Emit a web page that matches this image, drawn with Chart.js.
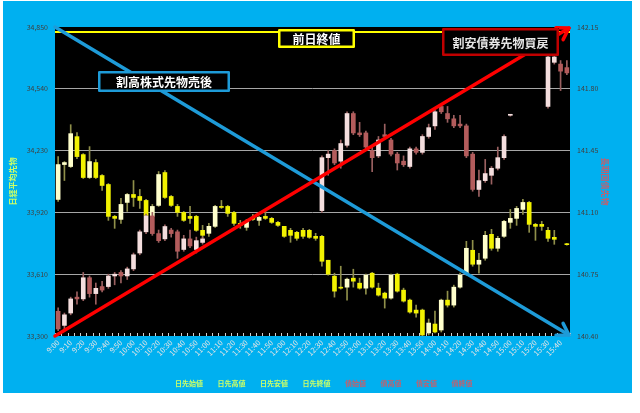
<!DOCTYPE html>
<html>
<head>
<meta charset="UTF-8">
<title>日経平均先物と債券先物</title>
<script src="https://cdn.jsdelivr.net/npm/chart.js"></script>
<style>
  html, body { margin: 0; padding: 0; background: #ffffff; }
  #wrap { position: absolute; left: 3px; top: 1px; width: 629px; height: 392px; background: #00B0F0; }
</style>
</head>
<body>
<div id="wrap"><canvas id="myChart" width="629" height="392"></canvas></div>
<script>
const times = [
  '9:00','9:05','9:10','9:15','9:20','9:25','9:30','9:35','9:40','9:45','9:50','9:55',
  '10:00','10:05','10:10','10:15','10:20','10:25','10:30','10:35','10:40','10:45','10:50','10:55',
  '11:00','11:05','11:10','11:15','11:20','11:25','11:30','11:35','11:40','11:45','11:50','11:55',
  '12:00','12:05','12:10','12:15','12:20','12:25','12:30','12:35','12:40','12:45','12:50','12:55',
  '13:00','13:05','13:10','13:15','13:20','13:25','13:30','13:35','13:40','13:45','13:50','13:55',
  '14:00','14:05','14:10','14:15','14:20','14:25','14:30','14:35','14:40','14:45','14:50','14:55',
  '15:00','15:05','15:10','15:15','15:20','15:25','15:30','15:35','15:40','15:45'
];

// 日経平均先物 (左軸)
const nkOpen = [
  33985, 34160, 34150, 34300, 34210, 34095, 34170, 34105, 34060, 33900,
  33885, 33970, 34010, 34000, 33980, 33900, 33955, 34120, 34000, 33950,
  33920, 33900, 33900, 33830, 33815, 33850, 33950, 33950, 33920, 33865,
  33845, 33895, 33880, 33900, 33890, 33870, 33850, 33830, 33820, 33830,
  33830, 33800, 33800, 33680, 33600, 33545, 33545, 33590, 33565, 33540,
  33615, 33540, 33515, 33490, 33610, 33530, 33480, 33430, 33430, 33315,
  33360, 33330, 33480, 33455, 33545, 33615, 33730, 33660, 33690, 33810,
  33740, 33800, 33870, 33890, 33935, 33970, 33860, 33860, 33830, 33795,
  null, 33762
];
const nkHigh = [
  34200, 34175, 34360, 34320, 34215, 34250, 34185, 34110, 34065, 33905,
  33990, 34015, 34080, 34035, 33985, 33960, 34125, 34130, 34005, 33960,
  33925, 33950, 33905, 33855, 33865, 33955, 33980, 33955, 33925, 33880,
  33885, 33910, 33900, 33930, 33895, 33875, 33850, 33840, 33825, 33840,
  33835, 33815, 33805, 33680, 33615, 33650, 33590, 33635, 33590, 33610,
  33620, 33565, 33520, 33610, 33615, 33540, 33485, 33455, 33435, 33385,
  33425, 33485, 33525, 33555, 33615, 33775, 33780, 33715, 33825, 33835,
  33800, 33880, 33935, 33950, 33985, 33975, 33865, 33875, 33845, 33830,
  null, 33765
];
const nkLow = [
  33975, 34080, 34145, 34190, 34090, 34090, 34090, 34030, 33880, 33840,
  33865, 33925, 33950, 33940, 33900, 33895, 33950, 33990, 33950, 33900,
  33875, 33865, 33825, 33790, 33800, 33845, 33940, 33900, 33855, 33840,
  33830, 33880, 33855, 33885, 33865, 33850, 33795, 33770, 33780, 33790,
  33790, 33780, 33650, 33605, 33495, 33535, 33480, 33545, 33535, 33510,
  33540, 33500, 33440, 33485, 33520, 33470, 33415, 33395, 33300, 33305,
  33315, 33320, 33445, 33445, 33540, 33605, 33650, 33615, 33680, 33730,
  33725, 33795, 33840, 33855, 33910, 33820, 33780, 33830, 33775, 33760,
  null, 33755
];
const nkClose = [
  34160, 34170, 34315, 34200, 34095, 34175, 34095, 34055, 33900, 33890,
  33960, 34010, 33995, 33980, 33905, 33950, 34110, 33995, 33955, 33920,
  33880, 33890, 33830, 33805, 33850, 33950, 33945, 33915, 33865, 33855,
  33875, 33885, 33895, 33890, 33870, 33855, 33800, 33805, 33790, 33800,
  33795, 33790, 33675, 33610, 33525, 33540, 33585, 33575, 33540, 33605,
  33545, 33505, 33490, 33605, 33525, 33475, 33420, 33415, 33305, 33365,
  33320, 33480, 33455, 33545, 33605, 33740, 33660, 33680, 33805, 33740,
  33790, 33875, 33890, 33940, 33970, 33860, 33850, 33850, 33790, 33785,
  null, 33758
];

// 債券先物 (右軸)
const bdOpen = [
  140.54, 140.46, 140.53, 140.62, 140.61, 140.73, 140.64, 140.68, 140.68, 140.74,
  140.76, 140.74, 140.78, 140.87, 140.99, 141.08, 140.98, 140.95, 141.00, 140.99,
  140.89, 140.95, 140.89, 140.93, null, null, null, null, null, null,
  null, null, null, null, null, null, null, null, null, null,
  null, null, 141.11, 141.41, 141.45, 141.39, 141.48, 141.66, 141.55, 141.55,
  141.45, 141.42, 141.54, 141.51, 141.43, 141.39, 141.36, 141.46, 141.44, 141.53,
  141.59, 141.70, 141.66, 141.63, 141.60, 141.59, 141.43, 141.23, 141.28, 141.31,
  141.35, 141.41, 141.65, null, null, null, null, null, 141.70, 141.95,
  141.94, 141.92
];
const bdHigh = [
  140.56, 140.53, 140.62, 140.65, 140.76, 140.74, 140.70, 140.71, 140.75, 140.76,
  140.77, 140.79, 140.87, 141.00, 141.09, 141.10, 141.00, 141.03, 141.01, 141.00,
  140.97, 141.00, 140.96, 140.96, null, null, null, null, null, null,
  null, null, null, null, null, null, null, null, null, null,
  null, null, 141.42, 141.45, 141.46, 141.51, 141.67, 141.67, 141.61, 141.56,
  141.47, 141.53, 141.60, 141.52, 141.44, 141.42, 141.47, 141.47, 141.54, 141.60,
  141.68, 141.71, 141.70, 141.65, 141.65, 141.60, 141.44, 141.34, 141.40, 141.36,
  141.47, 141.54, 141.65, null, null, null, null, null, 142.02, 142.00,
  141.96, 141.96
];
const bdLow = [
  140.43, 140.43, 140.52, 140.58, 140.60, 140.62, 140.58, 140.65, 140.67, 140.69,
  140.70, 140.72, 140.77, 140.86, 140.98, 140.97, 140.93, 140.94, 140.96, 140.84,
  140.88, 140.90, 140.87, 140.92, null, null, null, null, null, null,
  null, null, null, null, null, null, null, null, null, null,
  null, null, 141.10, 141.31, 141.37, 141.35, 141.47, 141.54, 141.53, 141.46,
  141.33, 141.41, 141.52, 141.42, 141.34, 141.36, 141.35, 141.43, 141.43, 141.52,
  141.57, 141.66, 141.61, 141.58, 141.58, 141.41, 141.22, 141.19, 141.27, 141.26,
  141.34, 141.40, 141.645, null, null, null, null, null, 141.69, 141.94,
  141.79, 141.88
];
const bdClose = [
  140.44, 140.52, 140.61, 140.61, 140.73, 140.64, 140.67, 140.66, 140.74, 140.75,
  140.74, 140.78, 140.86, 140.99, 141.08, 140.98, 140.94, 141.02, 140.98, 140.88,
  140.95, 140.91, 140.94, 140.95, null, null, null, null, null, null,
  null, null, null, null, null, null, null, null, null, null,
  null, null, 141.41, 141.43, 141.38, 141.49, 141.66, 141.55, 141.54, 141.47,
  141.41, 141.51, 141.53, 141.43, 141.38, 141.37, 141.46, 141.44, 141.53, 141.58,
  141.67, 141.67, 141.63, 141.59, 141.59, 141.42, 141.23, 141.28, 141.32, 141.35,
  141.41, 141.53, 141.65, null, null, null, null, null, 141.98, 141.98,
  141.90, 141.89
];

const leftTicks = [33300, 33610, 33920, 34230, 34540, 34850];
const rightTicks = [140.40, 140.75, 141.10, 141.45, 141.80, 142.15];
const prevClose = 34825;
const legendLabels = ['日先始値', '日先高値', '日先安値', '日先終値', '債始値', '債高値', '債安値', '債終値'];

const FONT = "'Noto Sans CJK JP', 'Noto Sans', sans-serif";

function pairs(a, b) {
  return a.map((v, i) => (v === null ? null : [v, b[i]]));
}
function bodyColors(open, close, up, down) {
  return open.map((o, i) => (o === null ? null : (close[i] >= o ? up : down)));
}

function arrow(ctx, x0, y0, x1, y1, color, width) {
  ctx.strokeStyle = color;
  ctx.lineWidth = width;
  ctx.lineCap = 'round';
  ctx.lineJoin = 'round';
  ctx.beginPath();
  ctx.moveTo(x0, y0);
  ctx.lineTo(x1, y1);
  ctx.stroke();
  const ang = Math.atan2(y1 - y0, x1 - x0);
  const len = 13, spread = 0.56;
  ctx.beginPath();
  ctx.moveTo(x1 - len * Math.cos(ang - spread), y1 - len * Math.sin(ang - spread));
  ctx.lineTo(x1, y1);
  ctx.lineTo(x1 - len * Math.cos(ang + spread), y1 - len * Math.sin(ang + spread));
  ctx.stroke();
}

// 注記ボックス
const boxes = [
  { text: '前日終値', rect: [275, 28, 77, 19], border: '#FFFF00', color: '#FFFFFF' },
  { text: '割高株式先物売後', rect: [95, 70, 132, 21], border: '#1E9BD8', color: '#FFFFFF' },
  { text: '割安債券先物買戻', rect: [439, 27, 117, 28], border: '#C00000', color: '#E6E6E6' }
];

const overlay = {
  id: 'overlay',
  beforeDraw(chart) {
    const { ctx, chartArea: a } = chart;
    ctx.save();
    ctx.fillStyle = '#000000';
    ctx.fillRect(a.left, a.top, a.right - a.left, a.bottom - a.top);
    ctx.restore();
  },
  afterDatasetsDraw(chart) {
    const { ctx, chartArea: a } = chart;
    const xs = chart.scales.x, y = chart.scales.y, y1 = chart.scales.y1;
    ctx.save();

    // 内向き目盛
    const step = xs.getPixelForValue(1) - xs.getPixelForValue(0);
    ctx.strokeStyle = '#D0D0D0';
    ctx.lineWidth = 1;
    ctx.beginPath();
    for (let i = 0; i <= times.length; i++) {
      const x = Math.round(xs.getPixelForValue(0) + (i - 0.5) * step) + 0.5;
      ctx.moveTo(x, a.bottom - 3);
      ctx.lineTo(x, a.bottom);
    }
    ctx.stroke();

    // 前日終値
    const yp = y.getPixelForValue(prevClose);
    ctx.strokeStyle = '#FFFF00';
    ctx.lineWidth = 2;
    ctx.beginPath();
    ctx.moveTo(a.left, yp);
    ctx.lineTo(a.right, yp);
    ctx.stroke();

    arrow(ctx, a.left, y.getPixelForValue(leftTicks[5]), a.right - 1, y.getPixelForValue(leftTicks[0]) - 1, '#1E9BD8', 3.5);
    arrow(ctx, a.left, y1.getPixelForValue(rightTicks[0]), a.right - 1, y1.getPixelForValue(rightTicks[5]) + 1, '#FF0000', 3.5);

    ctx.font = 'bold 12px ' + FONT;
    ctx.textAlign = 'center';
    ctx.textBaseline = 'middle';
    boxes.forEach(b => {
      const [bx, by, bw, bh] = b.rect;
      ctx.fillStyle = '#000000';
      ctx.fillRect(bx, by, bw, bh);
      ctx.strokeStyle = b.border;
      ctx.lineWidth = 2.5;
      ctx.strokeRect(bx + 1.25, by + 1.25, bw - 2.5, bh - 2.5);
      ctx.fillStyle = b.color;
      ctx.fillText(b.text, bx + bw / 2, by + bh / 2 + 1);
    });
    ctx.restore();
  },
  afterDraw(chart) {
    const ctx = chart.ctx;
    ctx.save();
    ctx.font = 'bold 7px ' + FONT;
    ctx.textBaseline = 'middle';
    ctx.textAlign = 'left';
    let x = 172;
    legendLabels.forEach((t, i) => {
      ctx.fillStyle = i < 4 ? '#CCFF66' : '#C0606E';
      ctx.fillText(t, x, 382);
      x += ctx.measureText(t).width + 14.5;
    });
    ctx.restore();
  }
};

new Chart(document.getElementById('myChart'), {
  type: 'bar',
  data: {
    labels: times,
    datasets: [
      {
        label: '日先ヒゲ', data: pairs(nkLow, nkHigh), yAxisID: 'y',
        backgroundColor: '#8F8F4A', barThickness: 1, grouped: false, order: 4
      },
      {
        label: '日先実体', data: pairs(nkOpen, nkClose), yAxisID: 'y',
        backgroundColor: bodyColors(nkOpen, nkClose, '#FFFFCC', '#F2F200'),
        barThickness: 4, grouped: false, order: 3, minBarLength: 1
      },
      {
        label: '債ヒゲ', data: pairs(bdLow, bdHigh), yAxisID: 'y1',
        backgroundColor: '#9A6060', barThickness: 1, grouped: false, order: 2
      },
      {
        label: '債実体', data: pairs(bdOpen, bdClose), yAxisID: 'y1',
        backgroundColor: bodyColors(bdOpen, bdClose, '#F4DEDE', '#B35C5C'),
        barThickness: 4, grouped: false, order: 1, minBarLength: 1
      }
    ]
  },
  options: {
    responsive: false,
    animation: false,
    layout: { padding: { top: 26, left: 0, right: 0, bottom: 0 } },
    plugins: {
      legend: { display: false },
      tooltip: { enabled: false }
    },
    scales: {
      x: {
        grid: { display: false, drawTicks: false },
        border: { display: false },
        ticks: {
          autoSkip: false, maxRotation: 45, minRotation: 45, padding: 2,
          color: '#E4E4E4', font: { size: 7.5, family: FONT },
          callback: (v, i) => (i % 2 === 0 ? times[i] : '')
        },
        afterFit: s => { s.height = 57; }
      },
      y: {
        position: 'left',
        min: leftTicks[0], max: leftTicks[leftTicks.length - 1],
        afterBuildTicks: s => { s.ticks = leftTicks.map(v => ({ value: v })); },
        grid: {
          drawTicks: false, lineWidth: 1,
          color: c => (c.index === 0 || c.index === leftTicks.length - 1 ? 'rgba(0,0,0,0)' : '#A6A6A6')
        },
        border: { display: false },
        ticks: {
          padding: 7, color: '#404040', font: { size: 7, family: FONT },
          callback: v => v.toLocaleString('en-US')
        },
        title: {
          display: true, text: '日経平均先物', color: '#CCFF66',
          font: { size: 8, weight: 'bold', family: FONT }, padding: { top: 5, bottom: 0 }
        },
        afterFit: s => { s.width = 52; }
      },
      y1: {
        position: 'right',
        min: rightTicks[0], max: rightTicks[rightTicks.length - 1],
        afterBuildTicks: s => { s.ticks = rightTicks.map(v => ({ value: v })); },
        grid: { drawOnChartArea: false, drawTicks: false },
        border: { display: false },
        ticks: {
          padding: 7, color: '#404040', font: { size: 7, family: FONT },
          callback: v => v.toFixed(2)
        },
        title: {
          display: true, text: '長期国債先物', color: '#C0606E',
          font: { size: 8, weight: 'bold', family: FONT }, padding: { top: 22, bottom: 0 }
        },
        afterFit: s => { s.width = 62; }
      }
    }
  },
  plugins: [overlay]
});
</script>
</body>
</html>
